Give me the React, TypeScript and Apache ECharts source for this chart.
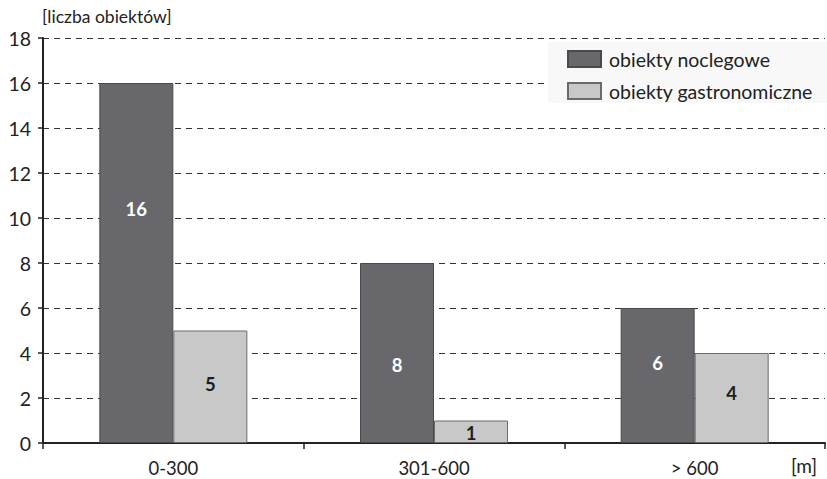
import React, { useEffect, useRef } from "react";
import * as echarts from "echarts";

const categories = ["0-300", "301-600", "> 600"];
const noclegowe = [16, 8, 6];
const gastronomiczne = [5, 1, 4];
const seriesNames = ["obiekty noclegowe", "obiekty gastronomiczne"];
const yAxisTitle = "[liczba obiektów]";
const xAxisUnit = "[m]";

// vertical nudges (px) of the value labels, as placed in the original
const noclegoweLabelShift = [-54, 12, -13];
const gastronomiczneLabelShift = [-3, 1, -5];

const FONT = "Lato, 'Open Sans', sans-serif";

const withShift = (values: number[], shifts: number[]) =>
  values.map((v, i) => ({ value: v, label: { offset: [0, shifts[i]] } }));

export default function App() {
  const ref = useRef<HTMLDivElement>(null);
  useEffect(() => {
    document.body.style.margin = "0";
    const chart = echarts.init(ref.current!, null, { renderer: "svg" });
    chart.setOption({
      animation: false,
      backgroundColor: "#ffffff",
      textStyle: { fontFamily: FONT },
      grid: { left: 43, right: 2, top: 38, bottom: 36, containLabel: false },
      legend: {
        orient: "vertical",
        left: 562,
        top: 44,
        itemWidth: 33,
        itemHeight: 16,
        itemGap: 12,
        icon: "rect",
        textStyle: { fontSize: 19.5, color: "#222", fontFamily: FONT, padding: [0, 0, 0, 3] },
        data: seriesNames,
      },
      xAxis: {
        type: "category",
        data: categories,
        axisLine: { lineStyle: { color: "#222", width: 2 } },
        axisTick: { show: true, length: 6, lineStyle: { color: "#222", width: 1.5 } },
        axisLabel: { fontSize: 18.5, color: "#222", margin: 15, fontFamily: FONT },
      },
      yAxis: {
        type: "value",
        min: 0,
        max: 18,
        interval: 2,
        axisLine: { show: true, lineStyle: { color: "#222", width: 2 } },
        axisTick: { show: true, length: 5, lineStyle: { color: "#222", width: 1.5 } },
        axisLabel: { fontSize: 19.5, color: "#222", margin: 12, fontFamily: FONT },
        splitLine: { lineStyle: { color: "#333", type: [6, 5], width: 1 } },
      },
      graphic: [
        {
          type: "rect",
          z: 1,
          shape: { x: 548, y: 42, width: 279, height: 61 },
          style: { fill: "#f8f8f8" },
        },
        {
          type: "text",
          left: 42,
          top: 7,
          style: { text: yAxisTitle, fontSize: 17.5, fill: "#222", fontFamily: FONT },
        },
        {
          type: "text",
          left: 791,
          top: 456,
          style: { text: xAxisUnit, fontSize: 19, fill: "#222", fontFamily: FONT },
        },
      ],
      series: [
        {
          name: seriesNames[0],
          type: "bar",
          data: withShift(noclegowe, noclegoweLabelShift),
          barWidth: 74,
          barGap: "0%",
          itemStyle: { color: "#68686c", borderColor: "#4a4a4d", borderWidth: 1 },
          label: {
            show: true,
            position: "inside",
            color: "#ffffff",
            fontWeight: "bold",
            fontSize: 18.5,
            fontFamily: FONT,
          },
        },
        {
          name: seriesNames[1],
          type: "bar",
          data: withShift(gastronomiczne, gastronomiczneLabelShift),
          barWidth: 74,
          barGap: "0%",
          itemStyle: { color: "#c8c8c9", borderColor: "#6a6a6a", borderWidth: 1 },
          label: {
            show: true,
            position: "inside",
            color: "#1e1e1e",
            fontWeight: "bold",
            fontSize: 18.5,
            fontFamily: FONT,
          },
        },
      ],
    });
    return () => chart.dispose();
  }, []);
  return <div ref={ref} style={{ width: 827, height: 479 }} />;
}
